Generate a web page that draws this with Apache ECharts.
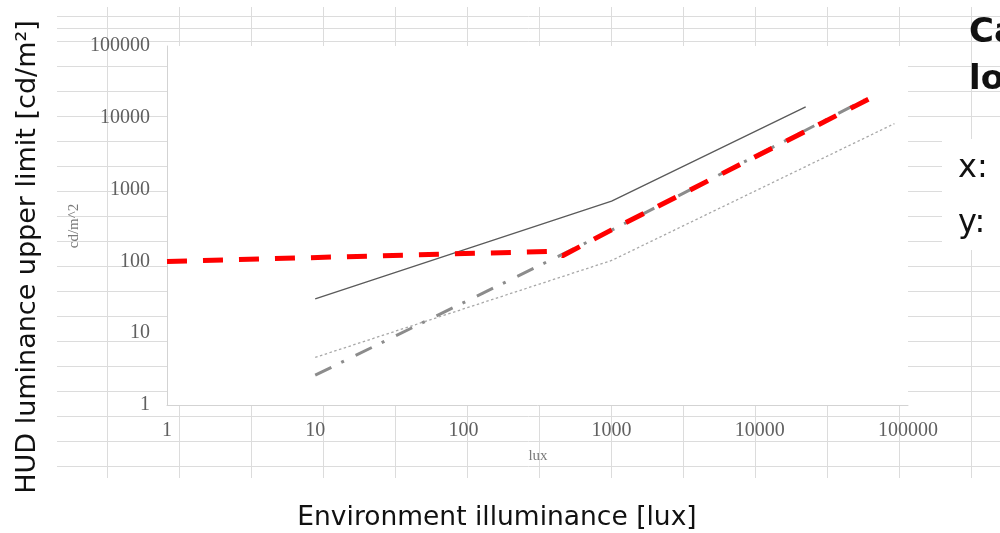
<!DOCTYPE html>
<html>
<head>
<meta charset="utf-8">
<script src="https://cdn.jsdelivr.net/npm/echarts@6/dist/echarts.min.js"></script>
<style>html,body{margin:0;padding:0;background:#fff}#c{width:1000px;height:533px}</style>
</head>
<body>
<div id="c"></div>
<script>
// tick labels
const xTickLabels = ['1', '10', '100', '1000', '10000', '100000'];
const yTickLabels = ['1', '10', '100', '1000', '10000', '100000'];
// series values [lux, cd/m^2]
const solidLine   = [[10, 30], [1000, 690], [20400, 14200]];
const dashDotLine = [[10, 2.6], [1000, 272], [51000, 17800]];
const dottedLine  = [[10, 4.6], [1000, 103], [81000, 8300]];
const redDashed   = [[1, 100], [390, 138], [467, 120], [1000, 275], [58000, 19500]];
// texts
const xTitle = 'Environment illuminance [lux]';
const yTitle = 'HUD luminance upper limit [cd/m²]';
const innerYName = 'cd/m^2';
const innerXName = 'lux';
const sideTitle = ['Ca', 'lo'];
const sideLines = ['x:', 'y:'];

const chart = echarts.init(document.getElementById('c'), null, {renderer: 'canvas'});
const bgLine = {show: true, lineStyle: {color: '#dcdcdc', width: 1}};
const hidden = {axisLine: {show: false}, axisTick: {show: false}, axisLabel: {show: false}};
const serif = 'Liberation Serif';
const tickFmt = (arr) => (v) => arr[Math.round(Math.log10(v))] ?? '';

chart.setOption({
  animation: false,
  grid: [
    {left: 167, top: 46, width: 741, height: 359, show: true, backgroundColor: '#fff', borderWidth: 0, z: 5},
    {left: 57, right: 0, top: 16, height: 25, z: 1},
    {left: 57, right: 0, top: 41, height: 425, z: 1},
    {left: 107, width: 864, top: 7, height: 471, z: 1}
  ],
  xAxis: [
    {type: 'log', logBase: 10, min: 1, max: 100000, gridIndex: 0, z: 6,
     axisLine: {show: true, lineStyle: {color: '#d3d3d3', width: 1}},
     axisTick: {show: false}, splitLine: {show: false}, minorTick: {show: false},
     axisLabel: {fontFamily: serif, fontSize: 20, color: '#606060', margin: 16, formatter: tickFmt(xTickLabels)}},
    Object.assign({type: 'value', gridIndex: 1, min: 0, max: 1, splitLine: {show: false}, z: 1}, hidden),
    Object.assign({type: 'value', gridIndex: 2, min: 0, max: 1, splitLine: {show: false}, z: 1}, hidden),
    Object.assign({type: 'value', gridIndex: 3, min: 0, max: 12, interval: 1, splitLine: bgLine, z: 1}, hidden)
  ],
  yAxis: [
    {type: 'log', logBase: 10, min: 1, max: 100000, gridIndex: 0, z: 6,
     axisLine: {show: true, lineStyle: {color: '#d3d3d3', width: 1}},
     axisTick: {show: false}, splitLine: {show: false}, minorTick: {show: false},
     axisLabel: {fontFamily: serif, fontSize: 20, color: '#606060', margin: 17, formatter: tickFmt(yTickLabels)}},
    Object.assign({type: 'value', gridIndex: 1, min: 0, max: 2, interval: 1, splitLine: bgLine, z: 1}, hidden),
    Object.assign({type: 'value', gridIndex: 2, min: 0, max: 17, interval: 1, splitLine: bgLine, z: 1}, hidden),
    Object.assign({type: 'value', gridIndex: 3, min: 0, max: 1, splitLine: {show: false}, z: 1}, hidden)
  ],
  series: [
    {type: 'line', data: solidLine, symbol: 'none', z: 7,
     lineStyle: {color: '#5a5a5a', width: 1.3}},
    {type: 'line', data: dottedLine, symbol: 'none', z: 7,
     lineStyle: {color: '#a8a8a8', width: 1.3, type: [2.5, 2.5]}},
    {type: 'line', data: dashDotLine, symbol: 'none', z: 7,
     lineStyle: {color: '#8c8c8c', width: 3, type: [18, 11, 3, 13]}},
    {type: 'line', data: redDashed, symbol: 'none', z: 8,
     lineStyle: {color: '#ff0000', width: 5, type: [20, 16]}}
  ],
  graphic: [
    {type: 'rect', z: 5, shape: {x: 942, y: 139, width: 58, height: 111}, style: {fill: '#fff'}},
    {type: 'text', z: 10, x: 28, y: 257, rotation: Math.PI / 2,
     style: {text: yTitle, x: 0, y: 0, align: 'center', verticalAlign: 'middle', fontFamily: 'DejaVu Sans', fontSize: 27, fill: '#111'}},
    {type: 'text', z: 10, x: 497, y: 518,
     style: {text: xTitle, align: 'center', verticalAlign: 'middle', fontFamily: 'DejaVu Sans', fontSize: 26.5, fill: '#111'}},
    {type: 'text', z: 10, x: 74, y: 226, rotation: Math.PI / 2,
     style: {text: innerYName, x: 0, y: 0, align: 'center', verticalAlign: 'middle', fontFamily: serif, fontSize: 15, fill: '#7a7a7a'}},
    {type: 'text', z: 10, x: 538, y: 456,
     style: {text: innerXName, align: 'center', verticalAlign: 'middle', fontFamily: serif, fontSize: 15, fill: '#7a7a7a'}},
    {type: 'text', z: 10, x: 969, y: 33,
     style: {text: sideTitle[0], align: 'left', verticalAlign: 'middle', fontFamily: 'DejaVu Sans', fontWeight: 'bold', fontSize: 34, fill: '#111'}},
    {type: 'text', z: 10, x: 969, y: 80,
     style: {text: sideTitle[1], align: 'left', verticalAlign: 'middle', fontFamily: 'DejaVu Sans', fontWeight: 'bold', fontSize: 34, fill: '#111'}},
    {type: 'text', z: 10, x: 958, y: 169,
     style: {text: sideLines[0], align: 'left', verticalAlign: 'middle', fontFamily: 'DejaVu Sans', fontSize: 32, fill: '#111'}},
    {type: 'text', z: 10, x: 958, y: 224,
     style: {text: sideLines[1], align: 'left', verticalAlign: 'middle', fontFamily: 'DejaVu Sans', fontSize: 32, fill: '#111'}}
  ]
});
</script>
</body>
</html>
